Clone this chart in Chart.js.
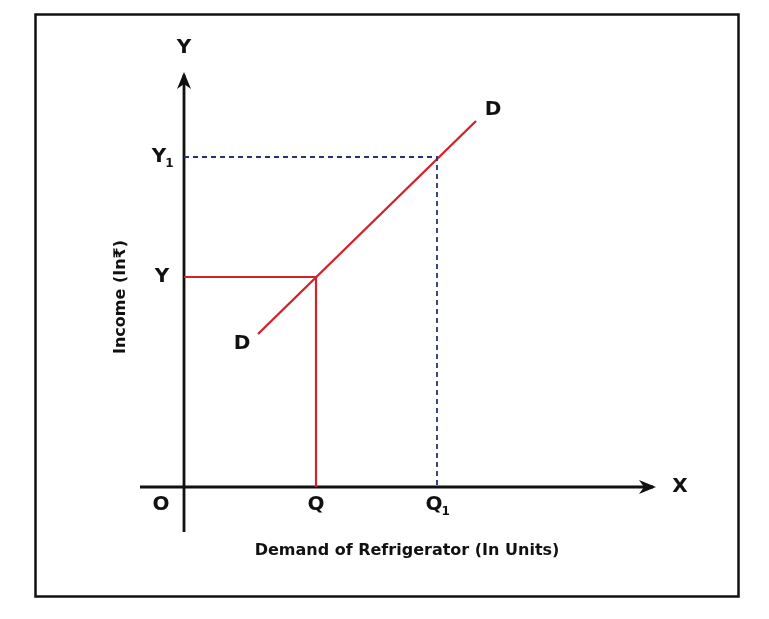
<!DOCTYPE html>
<html lang="en">
<head>
  <meta charset="UTF-8" />
  <title>Income Demand Curve</title>
  <script src="https://cdn.jsdelivr.net/npm/chart.js"></script>
  <style>
    html, body { margin: 0; padding: 0; background: #fff; }
    #wrap { width: 769px; height: 619px; position: relative; }
  </style>
</head>
<body>
  <div id="wrap"><canvas id="demandChart"></canvas></div>

  <script>
    // Values (arbitrary units, origin at O)
    const demandLine = [{ x: 7.4, y: 15.3 }, { x: 29.2, y: 36.6 }];
    const qValues = [13.2, 25.3];       // Q, Q1
    const yValues = [21.0, 33.0];       // Y, Y1
    const xTickLabels = ["Q", "Q1"];
    const yTickLabels = ["Y", "Y1"];
    const axisRange = { xMin: -4.4, xMax: 47.2, yMin: -4.5, yMax: 41.5 };

    const red = "#d2232a";
    const navy = "#26336e";
    const labelFont = "bold 20px 'DejaVu Sans', sans-serif";
    const subFont = "bold 12px 'DejaVu Sans', sans-serif";
    const titleFont = "bold 16px 'DejaVu Sans', sans-serif";

    // level lines: horizontal from the y axis, then down to the x axis
    const redGuide = [{ x: 0, y: yValues[0] }, { x: qValues[0], y: yValues[0] }, { x: qValues[0], y: 0 }];
    const blueGuide = [{ x: 0, y: yValues[1] }, { x: qValues[1], y: yValues[1] }, { x: qValues[1], y: 0 }];
    const xAxisLine = [{ x: axisRange.xMin, y: 0 }, { x: axisRange.xMax - 0.3, y: 0 }];
    const yAxisLine = [{ x: 0, y: axisRange.yMin }, { x: 0, y: axisRange.yMax - 0.3 }];

    function drawLabel(ctx, text, x, y) {
      ctx.font = labelFont;
      if (text.length === 1) {
        ctx.textAlign = "center";
        ctx.fillText(text, x, y);
        return;
      }
      const main = text[0], sub = text.slice(1);
      const w = ctx.measureText(main).width;
      ctx.textAlign = "left";
      ctx.fillText(main, x - w / 2 - 3, y);
      ctx.font = subFont;
      ctx.fillText(sub, x + w / 2 - 4, y + 7);
    }

    const decorPlugin = {
      id: "decor",
      beforeDraw(chart) {
        const ctx = chart.ctx;
        ctx.save();
        ctx.strokeStyle = "#111";
        ctx.lineWidth = 2.5;
        ctx.strokeRect(35.5, 14.5, 703, 582);
        ctx.restore();
      },
      afterDraw(chart) {
        const ctx = chart.ctx;
        const xs = chart.scales.x, ys = chart.scales.y;
        const ox = xs.getPixelForValue(0), oy = ys.getPixelForValue(0);
        const tipX = xs.getPixelForValue(axisRange.xMax);
        const tipY = ys.getPixelForValue(axisRange.yMax);
        ctx.save();
        ctx.fillStyle = "#111";
        // arrow heads
        ctx.beginPath();
        ctx.moveTo(tipX, oy);
        ctx.lineTo(tipX - 17, oy - 7);
        ctx.lineTo(tipX - 12, oy);
        ctx.lineTo(tipX - 17, oy + 7);
        ctx.closePath();
        ctx.fill();
        ctx.beginPath();
        ctx.moveTo(ox, tipY);
        ctx.lineTo(ox - 7, tipY + 17);
        ctx.lineTo(ox, tipY + 12);
        ctx.lineTo(ox + 7, tipY + 17);
        ctx.closePath();
        ctx.fill();

        ctx.textBaseline = "middle";
        drawLabel(ctx, "Y", ox, tipY - 24);
        drawLabel(ctx, "X", tipX + 24, oy);
        drawLabel(ctx, "O", ox - 23, oy + 18);

        // tick labels for Q, Q1 and Y, Y1
        qValues.forEach((v, i) => drawLabel(ctx, xTickLabels[i], xs.getPixelForValue(v), oy + 18));
        yValues.forEach((v, i) => drawLabel(ctx, yTickLabels[i], ox - 22, ys.getPixelForValue(v)));

        // curve labels
        const d0 = demandLine[0], d1 = demandLine[demandLine.length - 1];
        drawLabel(ctx, "D", xs.getPixelForValue(d0.x) - 16, ys.getPixelForValue(d0.y) + 10);
        drawLabel(ctx, "D", xs.getPixelForValue(d1.x) + 17, ys.getPixelForValue(d1.y) - 11);

        // axis titles
        ctx.font = titleFont;
        ctx.textAlign = "center";
        ctx.fillText("Demand of Refrigerator (In Units)", 407, 551);
        ctx.translate(121, 297);
        ctx.rotate(-Math.PI / 2);
        ctx.fillText("Income (In₹)", 0, 0);
        ctx.restore();
      }
    };

    const lineBase = { pointRadius: 0, fill: false, tension: 0, clip: false };

    new Chart(document.getElementById("demandChart"), {
      type: "line",
      data: {
        datasets: [
          { ...lineBase, label: "Y-Y1 guide", data: blueGuide, borderColor: navy, borderWidth: 1.8, borderDash: [5, 4] },
          { ...lineBase, label: "Y-Q guide", data: redGuide, borderColor: red, borderWidth: 2.2 },
          { ...lineBase, label: "DD", data: demandLine, borderColor: red, borderWidth: 2.4 },
          { ...lineBase, label: "x axis", data: xAxisLine, borderColor: "#111", borderWidth: 2.8 },
          { ...lineBase, label: "y axis", data: yAxisLine, borderColor: "#111", borderWidth: 2.8 }
        ]
      },
      options: {
        responsive: true,
        maintainAspectRatio: false,
        animation: false,
        layout: { padding: { left: 140, right: 113, top: 72, bottom: 87 } },
        plugins: { legend: { display: false }, tooltip: { enabled: false } },
        scales: {
          x: { type: "linear", display: false, min: axisRange.xMin, max: axisRange.xMax },
          y: { type: "linear", display: false, min: axisRange.yMin, max: axisRange.yMax }
        }
      },
      plugins: [decorPlugin]
    });
  </script>
</body>
</html>
